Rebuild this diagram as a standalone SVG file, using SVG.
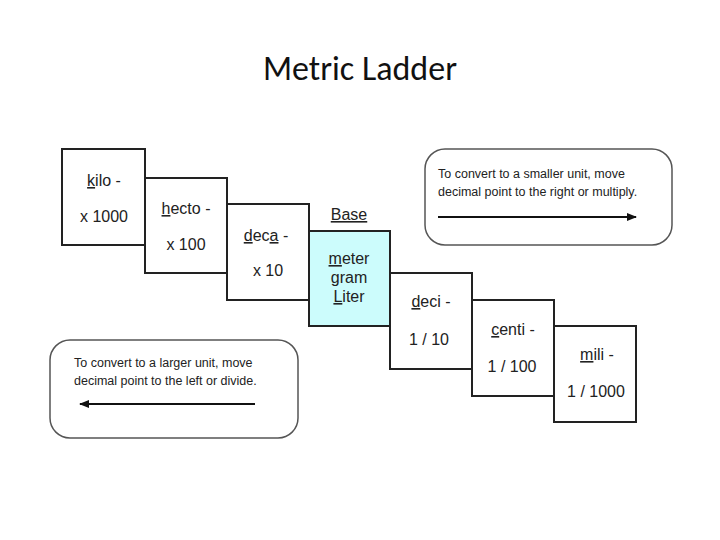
<svg xmlns="http://www.w3.org/2000/svg" width="720" height="540" viewBox="0 0 720 540">
<style>
.b{fill:#fff;stroke:#222;stroke-width:2}
.t{font-family:"Liberation Sans",Arial,sans-serif;font-size:16px;fill:#222;text-anchor:middle}
.s{font-family:"Liberation Sans",Arial,sans-serif;font-size:12.5px;fill:#222}
.u{text-decoration:underline}
.r{fill:#fff;stroke:#555;stroke-width:1.5}
</style>
<defs><marker id="a" markerWidth="10" markerHeight="8" refX="9" refY="4" orient="auto" markerUnits="userSpaceOnUse"><path d="M0,0 L10,4 L0,8 Z" fill="#111"/></marker></defs>
<rect width="720" height="540" fill="#fff"/>
<text x="360" y="80" font-family="Calibri,Carlito,'Liberation Sans',sans-serif" font-size="34" fill="#111" text-anchor="middle">Metric Ladder</text>
<g id="kilo"><rect class="b" x="62" y="149" width="83" height="96"/><text class="t" x="104" y="186"><tspan class="u">k</tspan>ilo -</text><text class="t" x="104" y="222">x 1000</text></g>
<g id="hecto"><rect class="b" x="145" y="178" width="82" height="95"/><text class="t" x="186" y="214"><tspan class="u">h</tspan>ecto -</text><text class="t" x="186" y="250">x 100</text></g>
<g id="deca"><rect class="b" x="227" y="204" width="82" height="96"/><text class="t" x="266" y="241"><tspan class="u">d</tspan>ec<tspan class="u">a</tspan>  -</text><text class="t" x="268" y="276">x 10</text></g>
<g id="base"><text class="t" x="349" y="220"><tspan class="u">Base</tspan></text><rect x="309" y="231" width="81" height="95" fill="#ccfcfc" stroke="#222" stroke-width="2"/><text class="t" x="349" y="264" fill="#333"><tspan class="u">m</tspan>eter</text><text class="t" x="349" y="283"><tspan class="u">g</tspan>ram</text><text class="t" x="349" y="302"><tspan class="u">L</tspan>iter</text></g>
<g id="deci"><rect class="b" x="390" y="273" width="82" height="96"/><text class="t" x="431" y="307"><tspan class="u">d</tspan>eci -</text><text class="t" x="429" y="345">1 / 10</text></g>
<g id="centi"><rect class="b" x="472" y="300" width="82" height="96"/><text class="t" x="513" y="335"><tspan class="u">c</tspan>enti -</text><text class="t" x="512" y="372">1 / 100</text></g>
<g id="mili"><rect class="b" x="554" y="326" width="82" height="96"/><text class="t" x="597" y="360"><tspan class="u">m</tspan>ili -</text><text class="t" x="596" y="397">1 / 1000</text></g>
<g id="note1"><rect class="r" x="425" y="149" width="247" height="96" rx="20"/><text class="s" x="438" y="178">To convert to a smaller unit, move</text><text class="s" x="438" y="196">decimal  point to the right or multiply.</text></g>
<g id="note2"><rect class="r" x="50" y="340" width="248" height="98" rx="20"/><text class="s" x="74" y="367">To convert to a larger unit, move</text><text class="s" x="74" y="385">decimal  point to the left or divide.</text></g>
<g id="connectors" stroke="#111" stroke-width="2"><line x1="438" y1="217" x2="636" y2="217" marker-end="url(#a)"/><line x1="255" y1="404" x2="80" y2="404" marker-end="url(#a)"/></g>
</svg>
